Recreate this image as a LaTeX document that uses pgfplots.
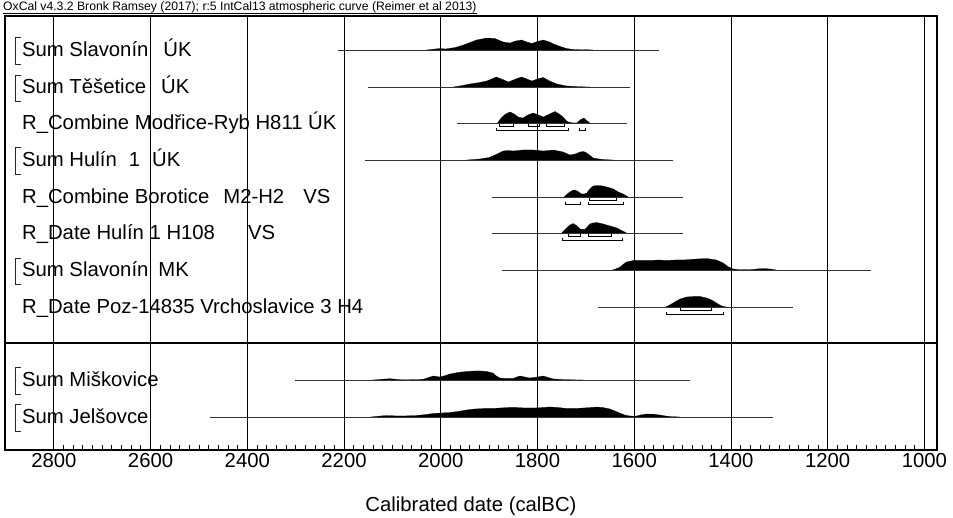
\documentclass[border=0pt]{standalone}
\usepackage{fontspec}
\setmainfont{Liberation Sans}
\usepackage{pgfplots}
\pgfplotsset{compat=1.18}
\newcommand{\dist}[2]{\addplot[fill=black, draw=black, line width=0.2pt] table[x=yr, y expr=\thisrow{h}+#1, row sep=\\]{#2};}
\newcommand{\rng}[3]{\addplot[black!80, line width=0.9pt] coordinates {(#2,#1) (#3,#1)};}
\newcommand{\brk}[4]{\addplot[black, line width=1pt] coordinates {(#3,#2) (#3,#1) (#4,#1) (#4,#2)};}
\newcommand{\sumbr}[2]{\addplot[black!85, line width=0.9pt] coordinates {(2868,#2) (2879,#2) (2879,#1) (2868,#1)};}
\newcommand{\lab}[2]{\node[anchor=base west, inner sep=0pt, font=\fontsize{20.3}{24}\selectfont] at (axis cs:2866,#1) {#2};}
\begin{document}
\begin{tikzpicture}
\begin{axis}[
  at={(0,0)}, anchor=south west,
  width=932pt, height=434pt, scale only axis,
  x dir=reverse, xmin=974, xmax=2901, ymin=0, ymax=434,
  xtick={1000,1200,...,2800}, minor x tick num=9,
  ytick=\empty, xtick pos=left,
  tick align=inside, major tick length=5pt, minor tick length=5pt,
  every tick/.style={black, line width=0.8pt},
  xmajorgrids, major grid style={black, line width=0.9pt},
  axis line style={black, line width=1.2pt},
  /pgf/number format/set thousands separator={},
  /pgf/number format/assume math mode=true,
  xticklabel style={font=\fontsize{20.3}{24}\selectfont, inner sep=0pt, anchor=north, yshift=-3pt},
  xlabel={Calibrated date (calBC)},
  xlabel style={at={(axis description cs:0.5,0)}, anchor=base, yshift=-62pt, inner sep=0pt, font=\fontsize{20.3}{24}\selectfont},
  clip=false
]
% divider
\addplot[black, line width=1.2pt] coordinates {(974,107) (2901,107)};
% range lines
\rng{400}{2213}{1549}
\rng{363}{2151}{1609}
\rng{327}{1967}{1615}
\rng{290}{2157}{1520}
\rng{253}{1894}{1499}
\rng{217}{1894}{1499}
\rng{180}{1873}{1110}
\rng{143}{1675}{1272}
\rng{70}{2302}{1485}
\rng{33}{2477}{1313}
% distributions
\dist{400}{yr h\\ 2030 0\\ 2002 1.5\\ 1990 1\\ 1970 2.5\\ 1953 5\\ 1926 10\\ 1905 12\\ 1888 11.5\\ 1871 8\\ 1857 7\\ 1845 9\\ 1833 10\\ 1822 8\\ 1812 6.5\\ 1800 8.5\\ 1788 10\\ 1775 8\\ 1767 6\\ 1750 3\\ 1740 1.5\\ 1726 0.5\\ 1698 0.3\\ 1685 0\\}
\dist{363}{yr h\\ 1974 0\\ 1955 1.5\\ 1940 3\\ 1920 4.5\\ 1905 6\\ 1895 8\\ 1885 10\\ 1872 7.5\\ 1860 5\\ 1845 8\\ 1833 10\\ 1822 8\\ 1812 6\\ 1800 8\\ 1788 9.5\\ 1775 6\\ 1760 3\\ 1740 1\\ 1712 0.3\\ 1692 0\\}
\dist{327}{yr h\\ 1883 0\\ 1875 5\\ 1866 9\\ 1857 11\\ 1848 9\\ 1840 6\\ 1830 5\\ 1820 8\\ 1809 10\\ 1798 8\\ 1788 6\\ 1775 9\\ 1764 11.5\\ 1755 9\\ 1747 6\\ 1740 2\\ 1736 1\\ 1726 0\\ 1718 0\\ 1712 3\\ 1704 5\\ 1697 2\\ 1692 0\\}
\dist{290}{yr h\\ 1946 0\\ 1919 1\\ 1900 2.5\\ 1888 5\\ 1871 9\\ 1860 9.5\\ 1850 9\\ 1840 9.5\\ 1830 10\\ 1820 10\\ 1809 10\\ 1798 9.5\\ 1788 9\\ 1777 9.5\\ 1767 10\\ 1757 9\\ 1747 8\\ 1733 5\\ 1722 6\\ 1712 8\\ 1705 8.5\\ 1698 7\\ 1690 4\\ 1685 2\\ 1670 0.8\\ 1657 0.3\\ 1643 0\\}
\dist{253}{yr h\\ 1745 0\\ 1736 4\\ 1728 6.5\\ 1723 7\\ 1716 5.5\\ 1709 3\\ 1703 3\\ 1698 4\\ 1692 8\\ 1685 11\\ 1675 11.5\\ 1664 11\\ 1653 9.5\\ 1643 8\\ 1633 5\\ 1623 3\\ 1612 0\\}
\dist{217}{yr h\\ 1750 0\\ 1740 5\\ 1733 8\\ 1726 9.5\\ 1718 7\\ 1712 4\\ 1702 3.5\\ 1697 6\\ 1692 9\\ 1685 10\\ 1678 10.5\\ 1668 9.5\\ 1657 8\\ 1646 6.5\\ 1636 5\\ 1626 2.5\\ 1616 0\\}
\dist{180}{yr h\\ 1645 0\\ 1636 1.5\\ 1629 3\\ 1622 6\\ 1616 8\\ 1602 9.5\\ 1585 9.5\\ 1567 9.5\\ 1550 10\\ 1533 9.5\\ 1515 10\\ 1499 10\\ 1485 10.5\\ 1471 11\\ 1450 11.5\\ 1430 10\\ 1416 7\\ 1405 3\\ 1395 1\\ 1381 0.3\\ 1365 0.3\\ 1354 0.6\\ 1340 1.3\\ 1333 1.5\\ 1319 1\\ 1306 0\\}
\dist{143}{yr h\\ 1535 0\\ 1523 3\\ 1513 6\\ 1505 8\\ 1492 10\\ 1478 10.5\\ 1464 10.5\\ 1450 9\\ 1440 7\\ 1433 5\\ 1425 2.5\\ 1419 1\\ 1410 0\\}
\dist{70}{yr h\\ 2140 0\\ 2120 0.8\\ 2105 1.3\\ 2090 0.6\\ 2078 0.2\\ 2050 0.3\\ 2036 0.8\\ 2025 2.5\\ 2016 4\\ 2008 3.5\\ 2002 3\\ 1990 4.5\\ 1981 6\\ 1965 7.5\\ 1947 8.5\\ 1930 9\\ 1919 9\\ 1905 8.5\\ 1892 7\\ 1885 4\\ 1878 2\\ 1865 1.5\\ 1850 1.5\\ 1843 3\\ 1836 4\\ 1826 3\\ 1816 2\\ 1800 3\\ 1788 4\\ 1778 2.5\\ 1767 1\\ 1740 0.3\\ 1705 0\\}
\dist{33}{yr h\\ 2145 0\\ 2125 1\\ 2112 1.5\\ 2098 1.2\\ 2085 1\\ 2065 1.2\\ 2050 1.5\\ 2030 2.5\\ 2016 3.5\\ 1998 4\\ 1981 4.5\\ 1965 5.5\\ 1947 7\\ 1930 8\\ 1912 8.5\\ 1895 8.5\\ 1878 9\\ 1860 9.5\\ 1843 9.5\\ 1826 9\\ 1809 9\\ 1790 9.5\\ 1774 10\\ 1757 9.5\\ 1740 8.5\\ 1722 8.5\\ 1705 9\\ 1690 9.5\\ 1678 10\\ 1665 9.5\\ 1650 8\\ 1640 6\\ 1630 4\\ 1620 2\\ 1609 1\\ 1600 0.8\\ 1595 1\\ 1585 2.2\\ 1574 3\\ 1560 2.8\\ 1547 2\\ 1535 1\\ 1526 0.5\\ 1505 0\\}
% probability range brackets
\brk{323}{325.5}{1878}{1850}
\brk{323}{325.5}{1819}{1795}
\brk{323}{325.5}{1781}{1745}
\brk{319}{321.5}{1885}{1736}
\brk{319}{321.5}{1714}{1700}
\brk{249}{251.5}{1692}{1636}
\brk{245}{247.5}{1743}{1712}
\brk{245}{247.5}{1695}{1623}
\brk{213}{215.5}{1736}{1712}
\brk{213}{215.5}{1695}{1647}
\brk{209}{211.5}{1748}{1624}
\brk{139}{141.5}{1505}{1440}
\brk{135}{137.5}{1533}{1416}
% sum brackets
\sumbr{386}{413}
\sumbr{349}{375}
\sumbr{276}{303}
\sumbr{166}{192}
\sumbr{56}{83}
\sumbr{19}{46}
% labels
\lab{393}{Sum Slavonín\hspace{15pt}ÚK}
\lab{356}{Sum Těšetice\hspace{15pt}ÚK}
\lab{320}{R\_Combine Modřice-Ryb H811 ÚK}
\lab{283}{Sum Hulín\hspace{12pt}1\hspace{12pt}ÚK}
\lab{246.5}{R\_Combine Borotice\hspace{14pt}M2-H2\hspace{19pt}VS}
\lab{210.5}{R\_Date Hulín 1 H108\hspace{33pt}VS}
\lab{173}{Sum Slavonín\hspace{10pt}MK}
\lab{136.5}{R\_Date Poz-14835 Vrchoslavice 3 H4}
\lab{63.5}{Sum Miškovice}
\lab{26.5}{Sum Jelšovce}
\end{axis}
\node[anchor=base west, inner sep=0pt, font=\fontsize{12.2}{14}\selectfont] (T) at (-2pt,439pt) {OxCal v4.3.2 Bronk Ramsey (2017); r:5 IntCal13 atmospheric curve (Reimer et al 2013)};
\draw[black, line width=0.7pt] (T.south west) -- (T.south east);
\pgfresetboundingbox
\path (-5pt,-68pt) rectangle (948pt,450pt);
\end{tikzpicture}
\end{document}
